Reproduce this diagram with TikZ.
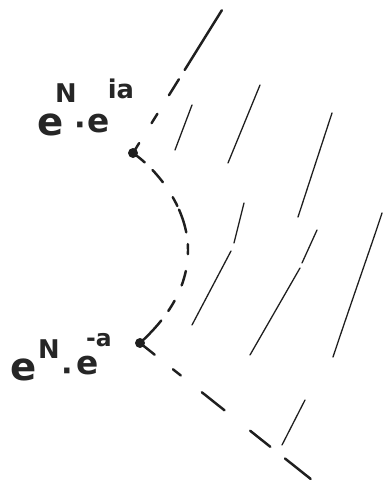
\documentclass[tikz,border=0pt]{standalone}
\usepackage{fontspec}
\setmainfont{DejaVu Sans}
\begin{document}
\begin{tikzpicture}[x=0.03cm,y=-0.03cm,
  ink/.style={draw=black!88, line cap=round},
  hatch/.style={ink, line width=1.1pt},
  bound/.style={ink, line width=2.1pt},
  vtx/.style={circle, fill=black!88, inner sep=0pt, minimum size=8.5pt},
  lbl/.style={inner sep=0pt, text=black!85},
  big/.style={lbl, font=\fontsize{33}{33}\selectfont\bfseries},
  mid/.style={lbl, font=\fontsize{28}{28}\selectfont\bfseries},
  sup/.style={lbl, font=\fontsize{22}{22}\selectfont\bfseries},
  dotf/.style={lbl, font=\fontsize{26}{26}\selectfont\bfseries, anchor=base}]
\useasboundingbox (0,0) rectangle (383,483);
\fill[white] (0,0) rectangle (383,483);

% vertices and free ends
\node[vtx] (p1) at (133,153) {};
\node[vtx] (p2) at (140,343) {};
\coordinate (top) at (222,10);
\coordinate (bot) at (312,480);
\coordinate (m) at (188,250);

% boundary (dashed)
\draw[bound, dash pattern=on 10pt off 20pt on 9.4pt off 18.7pt on 16pt off 9.4pt on 60pt]
  (p1.center) -- (top);
\draw[bound, dash pattern=on 12.8pt off 9.4pt on 13.6pt off 15.3pt on 8.5pt off 3.4pt on 20.4pt off 10.2pt on 8.5pt off 14.5pt on 12.8pt off 14.5pt on 10.2pt off 10.2pt on 25.5pt]
  (p1.center) .. controls (160,172) and (188,210) .. (m)
              .. controls (188,290) and (165,320) .. (p2.center);
\draw[bound, dash pattern=on 16pt off 20pt on 8.5pt off 23pt on 24.7pt off 28pt on 22pt off 16pt on 28pt]
  (p2.center) -- (bot);

% hatching
\draw[hatch] (192,105) -- (175,150);
\draw[hatch] (260,85) -- (228,163);
\draw[hatch] (332,113) -- (298,217);
\draw[hatch] (244,203) -- (234,243);
\draw[hatch] (231,251) -- (192,325);
\draw[hatch] (317,230) -- (302,263);
\draw[hatch] (300,268) -- (250,355);
\draw[hatch] (382,213) .. controls (375,235) and (352,300) .. (333,357);
\draw[hatch] (305,400) -- (282,445);

% upper label  e^N . e^{ia}
\node[big] (e1) at (51,125) {e};
\node[sup] (n1) at (66,93) {N};
\node[dotf] (d1) at (80,136) {·};
\node[mid] (e2) at (99,124) {e};
\node[sup] (ia) at (121,89) {ia};

% lower label  e^N . e^{-a}
\node[big] (e3) at (24,370) {e};
\node[sup] (n2) at (49,349) {N};
\node[dotf] (d2) at (67,381) {·};
\node[mid] (e4) at (88,366) {e};
\node[sup, font=\fontsize{20}{20}\selectfont\bfseries] (ma) at (99,340) {-a};
\end{tikzpicture}
\end{document}
